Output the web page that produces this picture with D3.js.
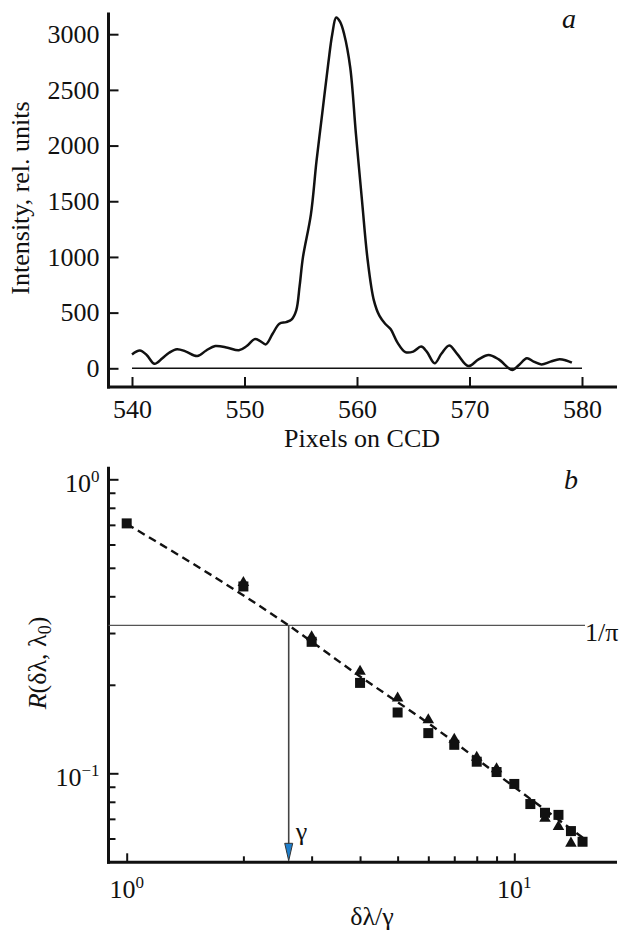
<!DOCTYPE html>
<html>
<head>
<meta charset="utf-8">
<script src="https://cdn.jsdelivr.net/npm/d3@7"></script>
<style>
  html, body { margin: 0; padding: 0; background: #fff; }
  svg { display: block; font-family: "Liberation Serif", "Times New Roman", "DejaVu Serif", serif; }
  svg text { font-family: "Liberation Serif", "Times New Roman", "DejaVu Serif", serif !important; fill: #111; }
</style>
</head>
<body>
<svg id="chart" width="619" height="931"></svg>
<script>
// ---------------- Panel a data ----------------
const pixels = [540.0, 540.7, 541.3, 542.0, 542.7, 543.3, 544.0, 544.8, 545.8, 546.6, 547.4, 548.5, 549.5, 550.2, 550.9, 551.4, 551.9, 552.5, 553.1, 553.7, 554.2, 554.6, 554.9, 555.2, 555.9, 556.4, 556.9, 557.45, 557.8, 558.15, 558.5, 558.86, 559.4, 559.9, 560.45, 560.95, 561.5, 562.0, 562.5, 563.0, 563.6, 564.3, 565.0, 565.7, 566.2, 566.9, 567.5, 568.2, 568.9, 569.9, 570.8, 571.7, 572.6, 573.8, 574.4, 575.1, 575.7, 576.4, 577.2, 578.0, 578.6, 579.1];
const intensity = [125, 160, 120, 40, 90, 140, 172, 150, 110, 160, 200, 185, 162, 200, 262, 245, 215, 310, 400, 415, 440, 520, 740, 1000, 1380, 1860, 2280, 2740, 3000, 3150, 3110, 3000, 2700, 2110, 1500, 970, 610, 470, 400, 350, 230, 145, 150, 195, 150, 45, 130, 205, 130, 20, 80, 120, 80, -15, 30, 90, 60, 35, 60, 82, 70, 50];
const zeroLineRange = [540, 580];
const xTicksA = [540, 550, 560, 570, 580];
const yTicksA = [0, 500, 1000, 1500, 2000, 2500, 3000];

// ---------------- Panel b data ----------------
const squareX = [1, 2, 3, 4, 5, 6, 7, 8, 9, 10, 11, 12, 13, 14, 15];
const squareY = [0.708, 0.432, 0.280, 0.203, 0.161, 0.137, 0.125, 0.1095, 0.101, 0.092, 0.0786, 0.0734, 0.0722, 0.0636, 0.0585];
const triangleX = [2, 3, 4, 5, 6, 7, 8, 9, 12, 13, 14];
const triangleY = [0.445, 0.291, 0.222, 0.180, 0.152, 0.1305, 0.1133, 0.1035, 0.0703, 0.0658, 0.0578];
const fitX = [1, 2.618, 4, 6, 10, 15.3];
const fitY = [0.705, 0.3183, 0.2135, 0.148, 0.0898, 0.0593];
const levelValue = 1 / Math.PI;
const gammaX = 2.618;
const xMajorB = [1, 10];
const xMinorB = [2, 3, 4, 5, 6, 7, 8, 9];
const yMajorB = [0.1, 1];
const yMinorB = [0.06, 0.07, 0.08, 0.09, 0.2, 0.3, 0.4, 0.5, 0.6, 0.7, 0.8, 0.9];
const xLabelExpB = ["0", "1"];
const yLabelExpB = ["\u22121", "0"];

const svg = d3.select("#chart");
const ink = "#111";
const FONT = "'Liberation Serif', 'Times New Roman', 'DejaVu Serif', serif";

// ================= Panel a =================
const A = { left: 108.5, top: 12.5, bottom: 387, right: 617 };
const xA = d3.scaleLinear().domain([540, 580]).range([132, 582]);
const yA = d3.scaleLinear().domain([0, 3000]).range([368.3, 34.2]);
const gA = svg.append("g");

const yAxA = gA.append("g").attr("transform", `translate(${A.left},0)`)
  .call(d3.axisLeft(yA).tickValues(yTicksA).tickSizeInner(-10).tickSizeOuter(0).tickPadding(9).tickFormat(d3.format("d")));
yAxA.attr("font-family", FONT);
yAxA.select(".domain").remove();
yAxA.selectAll("line").attr("stroke", ink).attr("stroke-width", 2);
yAxA.selectAll("text").attr("font-size", 26).style("font-family", FONT).attr("fill", ink);

const xAxA = gA.append("g").attr("transform", `translate(0,${A.bottom})`)
  .call(d3.axisBottom(xA).tickValues(xTicksA).tickSizeInner(-10).tickSizeOuter(0).tickFormat(d3.format("d")));
xAxA.attr("font-family", FONT);
xAxA.select(".domain").remove();
xAxA.selectAll("line").attr("stroke", ink).attr("stroke-width", 2);
xAxA.selectAll("text").attr("font-size", 26).style("font-family", FONT).attr("fill", ink)
  .attr("y", 31).attr("dy", 0);

gA.append("line").attr("x1", A.left).attr("x2", A.left).attr("y1", A.top).attr("y2", A.bottom + 1.5)
  .attr("stroke", ink).attr("stroke-width", 3);
gA.append("line").attr("x1", A.left - 1.5).attr("x2", A.right).attr("y1", A.bottom).attr("y2", A.bottom)
  .attr("stroke", ink).attr("stroke-width", 3);

gA.append("line").attr("x1", xA(zeroLineRange[0])).attr("x2", xA(zeroLineRange[1]))
  .attr("y1", yA(0)).attr("y2", yA(0)).attr("stroke", ink).attr("stroke-width", 1.6);

const ptsA = pixels.map((p, i) => [p, intensity[i]]);
gA.append("path").datum(ptsA)
  .attr("d", d3.line().x(d => xA(d[0])).y(d => yA(d[1])).curve(d3.curveCatmullRom.alpha(0.5)))
  .attr("fill", "none").attr("stroke", ink).attr("stroke-width", 2.5).attr("stroke-linejoin", "round");

gA.append("text").attr("x", 562).attr("y", 27.5).attr("font-size", 28).attr("font-style", "italic").text("a");
gA.append("text").attr("transform", "translate(29,198) rotate(-90)").attr("text-anchor", "middle")
  .attr("font-size", 26).text("Intensity, rel. units");
gA.append("text").attr("x", 362).attr("y", 447).attr("text-anchor", "middle").attr("font-size", 26).text("Pixels on CCD");

// ================= Panel b =================
const B = { left: 108.5, top: 466.7, bottom: 862.3, right: 617 };
const xB = d3.scaleLog().domain([1, 10]).range([126.7, 514.3]);
const yB = d3.scaleLog().domain([0.1, 1]).range([773.3, 479.3]);
const gB = svg.append("g");

function styleTicks(sel) {
  sel.select(".domain").remove();
  sel.selectAll("line").attr("stroke", ink).attr("stroke-width", 2);
}
gB.append("g").attr("transform", `translate(${B.left},0)`)
  .call(d3.axisLeft(yB).tickValues(yMajorB).tickSizeInner(-10).tickSizeOuter(0).tickFormat(() => ""))
  .call(styleTicks);
gB.append("g").attr("transform", `translate(${B.left},0)`)
  .call(d3.axisLeft(yB).tickValues(yMinorB).tickSizeInner(-7).tickSizeOuter(0).tickFormat(() => ""))
  .call(styleTicks);
gB.append("g").attr("transform", `translate(0,${B.bottom})`)
  .call(d3.axisBottom(xB).tickValues(xMajorB).tickSizeInner(-9).tickSizeOuter(0).tickFormat(() => ""))
  .call(styleTicks);
gB.append("g").attr("transform", `translate(0,${B.bottom})`)
  .call(d3.axisBottom(xB).tickValues(xMinorB).tickSizeInner(-6).tickSizeOuter(0).tickFormat(() => ""))
  .call(styleTicks);

gB.append("line").attr("x1", B.left).attr("x2", B.left).attr("y1", B.top).attr("y2", B.bottom + 1.5)
  .attr("stroke", ink).attr("stroke-width", 3);
gB.append("line").attr("x1", B.left - 1.5).attr("x2", B.right).attr("y1", B.bottom).attr("y2", B.bottom)
  .attr("stroke", ink).attr("stroke-width", 3);

yMajorB.forEach((v, i) => {
  const t = gB.append("text").attr("x", 99.5).attr("y", yB(v) + 12.4).attr("text-anchor", "end").attr("font-size", 26);
  t.append("tspan").text("10");
  t.append("tspan").attr("font-size", 17).attr("dy", -9.5).text(yLabelExpB[i]);
});
xMajorB.forEach((v, i) => {
  const t = gB.append("text").attr("x", xB(v)).attr("y", 898).attr("text-anchor", "middle").attr("font-size", 26);
  t.append("tspan").text("10");
  t.append("tspan").attr("font-size", 17).attr("dy", -10).text(xLabelExpB[i]);
});

const yLevel = yB(levelValue);
const xGamma = xB(gammaX);
gB.append("line").attr("x1", B.left).attr("x2", 585).attr("y1", yLevel).attr("y2", yLevel)
  .attr("stroke", "#555").attr("stroke-width", 1.3);
gB.append("text").attr("x", 585).attr("y", yLevel + 15.5).attr("font-size", 26).text("1/\u03c0");
gB.append("line").attr("x1", xGamma).attr("x2", xGamma).attr("y1", yLevel).attr("y2", B.bottom - 18)
  .attr("stroke", "#444").attr("stroke-width", 1.6);
gB.append("path")
  .attr("d", `M${xGamma - 4},${B.bottom - 19}L${xGamma + 4},${B.bottom - 19}L${xGamma},${B.bottom - 1.5}Z`)
  .attr("fill", "#1f7fcc").attr("stroke", "#333").attr("stroke-width", 1);
gB.append("text").attr("x", xGamma + 7).attr("y", 840).attr("font-size", 26).text("\u03b3");

const fitPts = fitX.map((x, i) => [x, fitY[i]]);
gB.append("path").datum(fitPts)
  .attr("d", d3.line().x(d => xB(d[0])).y(d => yB(d[1])).curve(d3.curveMonotoneX))
  .attr("fill", "none").attr("stroke", ink).attr("stroke-width", 2.4).attr("stroke-dasharray", "8,5");

gB.selectAll(".tri").data(triangleX.map((x, i) => [x, triangleY[i]])).join("path")
  .attr("class", "tri")
  .attr("transform", d => `translate(${xB(d[0])},${yB(d[1])})`)
  .attr("d", d3.symbol(d3.symbolTriangle, 58)())
  .attr("fill", ink);
gB.selectAll(".sq").data(squareX.map((x, i) => [x, squareY[i]])).join("rect")
  .attr("class", "sq")
  .attr("x", d => xB(d[0]) - 5).attr("y", d => yB(d[1]) - 5)
  .attr("width", 10).attr("height", 10)
  .attr("fill", ink);

gB.append("text").attr("x", 564).attr("y", 489).attr("font-size", 28).attr("font-style", "italic").text("b");
const yt = gB.append("text").attr("transform", "translate(46,663) rotate(-90)").attr("text-anchor", "middle").attr("font-size", 26);
yt.append("tspan").attr("font-style", "italic").text("R");
yt.append("tspan").text("(\u03b4\u03bb, \u03bb");
yt.append("tspan").attr("font-size", 18).attr("dy", 5).text("0");
yt.append("tspan").attr("dy", -5).text(")");
gB.append("text").attr("x", 372).attr("y", 925).attr("text-anchor", "middle").attr("font-size", 26).text("\u03b4\u03bb/\u03b3");
</script>
</body>
</html>
